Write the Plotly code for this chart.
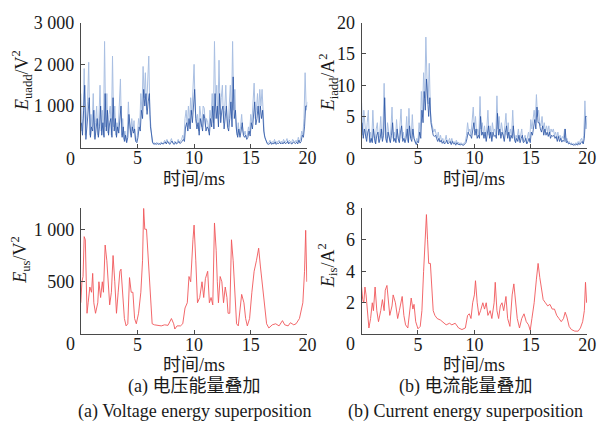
import numpy as np
import plotly.graph_objects as go

# ---------------- data ----------------
t_top = np.round(np.arange(0, 200.5, 1) / 10.0, 2)          # 0.0 .. 20.0 ms
t_top_mid = np.round(np.arange(0, 200, 1) / 10.0 + 0.05, 3)  # 0.05 .. 19.95 ms

uadd_light = [
    1300, 400, 700, 1900, 300, 600, 1100, 2050, 300, 800,
    500, 1300, 250, 600, 1000, 300, 700, 1500, 400, 900,
    300, 2550, 500, 1300, 350, 800, 1000, 300, 2200, 500,
    1000, 300, 600, 400, 1100, 1650, 300, 700, 200, 400,
    150, 300, 1100, 500, 300, 700, 400, 650, 200, 150,
    300, 700, 500, 1300, 900, 1950, 1200, 1800, 900, 1500,
    2200, 800, 500, 150, 100, 120, 90, 130, 100, 110,
    90, 140, 100, 120, 180, 110, 200, 130, 100, 150,
    220, 120, 100, 160, 110, 130, 200, 120, 150, 200,
    300, 200, 700, 900, 500, 1000, 600, 1200, 800, 1400,
    2000, 900, 600, 800, 400, 1000, 700, 500, 1000, 950,
    500, 700, 600, 400, 900, 700, 1300, 600, 2550, 1000,
    1500, 700, 2100, 800, 1200, 1500, 600, 900, 1500, 700,
    500, 1000, 1500, 700, 2550, 900, 1400, 500, 300, 600,
    300, 500, 800, 400, 300, 400, 250, 300, 500, 350,
    800, 600, 1000, 1550, 700, 900, 1300, 800, 1400, 1000,
    1400, 600, 300, 200, 150, 100, 120, 180, 100, 150,
    120, 200, 100, 150, 130, 180, 110, 160, 120, 200,
    130, 150, 220, 110, 180, 140, 120, 200, 150, 130,
    180, 120, 250, 150, 200, 400, 300, 700, 1800, 900,
    1100,
]
uadd_dark = [
    600, 300, 900, 1500, 200, 500, 800, 1200, 250, 500,
    400, 900, 200, 400, 700, 250, 500, 1000, 300, 600,
    250, 1300, 400, 900, 300, 600, 700, 250, 1200, 400,
    700, 250, 500, 350, 800, 1000, 250, 500, 150, 300,
    120, 250, 800, 400, 250, 500, 350, 450, 150, 120,
    250, 500, 400, 900, 700, 1400, 1000, 1300, 800, 1100,
    1300, 500, 300, 120, 80, 100, 80, 100, 80, 90,
    80, 110, 90, 100, 140, 90, 150, 110, 80, 120,
    160, 100, 80, 130, 90, 110, 150, 100, 120, 150,
    200, 150, 500, 600, 400, 700, 450, 900, 600, 1000,
    1400, 700, 450, 600, 300, 700, 500, 400, 800, 700,
    400, 500, 450, 300, 700, 500, 1000, 450, 1300, 700,
    1000, 500, 1300, 600, 900, 1000, 450, 700, 1000, 500,
    400, 700, 1100, 500, 1700, 700, 900, 400, 250, 450,
    250, 400, 600, 300, 250, 300, 200, 250, 400, 280,
    600, 450, 800, 1100, 550, 700, 1000, 600, 1000, 700,
    900, 400, 250, 150, 100, 80, 90, 130, 80, 110,
    90, 140, 80, 110, 100, 130, 90, 120, 90, 140,
    100, 110, 150, 90, 130, 100, 90, 140, 110, 100,
    130, 90, 180, 110, 150, 300, 250, 500, 1000, 1000,
]

iadd_light = [
    7.2, 2.0, 6.0, 3.0, 1.5, 4.0, 6.0, 1.0, 2.5, 1.0,
    6.0, 2.0, 0.8, 3.0, 4.0, 1.0, 2.0, 5.0, 1.5, 3.0,
    10.3, 2.5, 1.0, 4.0, 2.0, 1.0, 3.0, 6.5, 1.5, 2.5,
    1.0, 4.5, 2.0, 1.0, 3.5, 6.2, 1.5, 2.5, 1.0, 2.0,
    5.0, 1.0, 6.3, 2.0, 1.5, 5.3, 2.0, 1.0, 0.7, 1.5,
    1.0, 4.0, 2.0, 9.0, 5.0, 12.0, 8.0, 17.7, 11.0, 7.0,
    13.5, 6.0, 4.0, 3.0, 2.5, 3.0, 2.0, 1.5, 2.5, 1.2,
    2.0, 1.0, 1.5, 0.8, 1.2, 2.0, 0.8, 1.0, 1.5, 0.7,
    1.5, 0.8, 1.0, 0.6, 1.2, 0.7, 0.9, 0.5, 0.8, 0.6,
    0.5, 0.8, 1.0, 2.0, 4.0, 2.5, 3.0, 2.0, 4.5, 6.5,
    3.0, 5.0, 2.0, 3.0, 2.0, 8.2, 3.0, 4.0, 2.0, 3.5,
    1.5, 3.0, 6.0, 2.0, 3.5, 1.5, 4.0, 2.5, 3.0, 2.0,
    8.3, 3.0, 5.0, 2.0, 4.0, 3.0, 1.5, 3.5, 5.5, 2.0,
    4.0, 1.5, 3.0, 2.0, 6.0, 2.0, 1.0, 2.0, 1.5, 3.0,
    1.2, 2.0, 3.0, 1.0, 1.5, 2.0, 0.8, 1.5, 2.5, 1.0,
    4.5, 3.0, 5.0, 6.0, 4.0, 8.5, 5.0, 6.0, 4.0, 3.5,
    5.0, 3.0, 4.0, 2.5, 3.5, 2.5, 3.5, 2.0, 3.0, 2.5,
    3.0, 2.0, 2.5, 1.5, 2.5, 1.5, 2.0, 1.2, 1.8, 1.5,
    3.0, 1.0, 1.5, 0.8, 1.0, 0.6, 0.8, 0.5, 0.7, 0.5,
    0.8, 0.5, 1.0, 0.6, 1.2, 1.5, 0.8, 2.0, 7.5, 3.0,
    5.0,
]
iadd_dark = [
    4.0, 1.5, 3.0, 2.0, 1.0, 2.5, 3.0, 0.8, 1.5, 0.8,
    3.0, 1.5, 0.6, 2.0, 2.5, 0.8, 1.5, 3.0, 1.0, 2.0,
    8.0, 1.5, 0.8, 2.5, 1.5, 0.8, 2.0, 4.0, 1.0, 1.5,
    0.8, 3.0, 1.5, 0.8, 2.5, 3.5, 1.0, 1.5, 0.8, 1.5,
    3.0, 0.8, 3.5, 1.5, 1.0, 3.0, 1.5, 0.8, 0.5, 1.0,
    0.8, 2.5, 1.5, 6.0, 4.0, 9.0, 6.0, 11.0, 8.0, 5.0,
    8.0, 4.0, 3.0, 2.0, 1.8, 2.0, 1.5, 1.0, 1.5, 0.9,
    1.2, 0.7, 1.0, 0.6, 0.8, 1.2, 0.6, 0.8, 1.0, 0.5,
    1.0, 0.6, 0.7, 0.4, 0.8, 0.5, 0.6, 0.4, 0.6, 0.4,
    0.4, 0.6, 0.8, 1.5, 2.5, 2.0, 2.0, 1.5, 3.0, 4.0,
    2.0, 3.0, 1.5, 2.0, 1.5, 5.0, 2.0, 2.5, 1.5, 2.5,
    1.0, 2.0, 3.5, 1.5, 2.5, 1.0, 2.5, 1.8, 2.0, 1.5,
    5.5, 2.0, 3.0, 1.5, 2.5, 2.0, 1.0, 2.5, 3.5, 1.5,
    2.5, 1.0, 2.0, 1.5, 3.5, 1.5, 0.8, 1.5, 1.0, 2.0,
    0.8, 1.5, 2.0, 0.8, 1.0, 1.5, 0.6, 1.0, 1.5, 0.8,
    2.5, 2.0, 3.5, 4.5, 3.0, 6.5, 4.0, 4.0, 3.0, 2.5,
    3.5, 2.0, 3.0, 2.0, 2.5, 1.8, 2.5, 1.5, 2.0, 1.8,
    2.0, 1.5, 1.8, 1.0, 1.8, 1.0, 1.5, 0.9, 1.2, 1.0,
    3.0, 0.8, 1.0, 0.6, 0.7, 0.5, 0.6, 0.4, 0.5, 0.4,
    0.6, 0.4, 0.7, 0.5, 0.8, 1.0, 0.6, 1.5, 5.0, 5.0,
]

us_t = [0, 0.1, 0.2, 0.3, 0.4, 0.55, 0.65, 0.8, 0.95, 1.05,
        1.15, 1.3, 1.5, 1.6, 1.75, 1.9, 2.0, 2.15, 2.3, 2.4,
        2.55, 2.7, 2.85, 3.0, 3.15, 3.3, 3.45, 3.55, 3.7, 3.85,
        4.0, 4.15, 4.3, 4.45, 4.6, 4.75, 4.9, 5.1, 5.3, 5.45,
        5.55, 5.65, 5.8, 5.95, 6.1, 6.3, 6.5, 6.8, 7.1, 7.4,
        7.7, 8.0, 8.2, 8.3, 8.5, 8.8, 9.0, 9.2, 9.4, 9.55,
        9.7, 9.9, 10.0, 10.15, 10.3, 10.5, 10.7, 10.85, 11.0, 11.2,
        11.35, 11.5, 11.65, 11.8, 11.95, 12.05, 12.15, 12.3, 12.45, 12.6,
        12.75, 12.9, 13.0, 13.15, 13.3, 13.45, 13.6, 13.75, 13.9, 14.1,
        14.2, 14.4, 14.55, 14.7, 14.9, 15.1, 15.3, 15.5, 15.7, 15.85,
        16.0, 16.2, 16.4, 16.6, 16.9, 17.2, 17.5, 17.8, 18.0, 18.3,
        18.5, 18.8, 19.0, 19.3, 19.6, 19.75, 19.85, 19.95]
us_v = [300, 500, 550, 930, 900, 200, 300, 450, 400, 580,
        300, 200, 300, 500, 350, 500, 400, 850, 700, 500,
        280, 400, 750, 500, 200, 400, 600, 620, 400, 150,
        80, 100, 540, 400, 400, 150, 100, 200, 400, 700,
        1200, 1000, 1000, 700, 500, 100, 90, 85, 80, 90,
        85, 150, 100, 50, 80, 80, 100, 250, 300, 550,
        500, 900, 1040, 700, 300, 350, 500, 350, 530, 600,
        300, 350, 280, 1060, 800, 500, 300, 550, 500, 300,
        450, 350, 200, 200, 900, 700, 400, 100, 80, 300,
        380, 300, 150, 80, 150, 400, 600, 700, 820, 650,
        500, 300, 100, 60, 90, 100, 80, 130, 90, 80,
        110, 90, 100, 150, 300, 600, 990, 500]

is_t = [0, 0.1, 0.2, 0.3, 0.4, 0.55, 0.65, 0.8, 0.95, 1.05,
        1.2, 1.35, 1.5, 1.7, 1.85, 2.0, 2.1, 2.25, 2.4, 2.5,
        2.7, 2.8, 3.0, 3.2, 3.35, 3.5, 3.6, 3.75, 3.9, 4.1,
        4.3, 4.4, 4.55, 4.65, 4.8, 5.0, 5.2, 5.35, 5.5, 5.65,
        5.75, 5.85, 5.95, 6.1, 6.2, 6.35, 6.5, 6.7, 7.0, 7.3,
        7.5, 7.8, 8.0, 8.3, 8.6, 8.9, 9.2, 9.4, 9.55, 9.7,
        9.85, 10.0, 10.1, 10.25, 10.4, 10.55, 10.75, 10.9, 11.05, 11.2,
        11.4, 11.55, 11.75, 11.85, 12.0, 12.15, 12.3, 12.45, 12.6, 12.8,
        12.95, 13.15, 13.35, 13.5, 13.65, 13.8, 14.0, 14.2, 14.4, 14.6,
        14.8, 14.95, 15.1, 15.3, 15.5, 15.65, 15.8, 15.95, 16.1, 16.3,
        16.5, 16.7, 16.9, 17.1, 17.3, 17.5, 17.7, 17.9, 18.05, 18.2,
        18.4, 18.6, 18.9, 19.2, 19.4, 19.6, 19.75, 19.85, 19.95]
is_v = [3.0, 2.2, 2.0, 3.0, 2.5, 1.2, 0.4, 1.0, 2.0, 1.5,
        3.0, 1.5, 0.8, 1.5, 2.2, 1.5, 2.8, 3.1, 2.0, 1.2,
        1.8, 2.5, 2.0, 1.0, 1.5, 2.2, 2.4, 1.2, 0.6, 0.4,
        1.5, 2.3, 1.6, 1.9, 0.8, 0.35, 0.5, 1.5, 4.0, 6.5,
        7.6, 6.0, 4.5, 4.5, 3.0, 1.5, 1.2, 1.0, 0.9, 0.7,
        0.6, 0.7, 0.6, 0.7, 0.4, 0.3, 0.4, 1.2, 1.3, 1.0,
        2.0, 2.5, 3.4, 2.0, 1.2, 1.5, 2.0, 1.6, 2.0, 1.2,
        1.5, 1.0, 2.0, 3.3, 1.5, 1.0, 1.8, 2.0, 1.5, 2.4,
        1.0, 0.5, 2.5, 3.2, 2.0, 1.0, 0.4, 1.0, 1.3, 0.8,
        0.6, 0.25, 1.0, 2.0, 3.5, 4.5, 3.6, 2.8, 2.2, 2.0,
        1.8, 1.9, 1.6, 1.6, 1.2, 1.0, 0.8, 1.0, 1.4, 1.1,
        0.5, 0.3, 0.2, 0.2, 0.4, 0.8, 1.5, 3.3, 2.0]

x_ticks = [5, 10, 15, 20]
uadd_ticks = [1000, 2000, 3000]
uadd_text = ["1 000", "2 000", "3 000"]
iadd_ticks = [5, 10, 15, 20]
us_ticks = [500, 1000]
us_text = ["500", "1 000"]
is_ticks = [2, 4, 6, 8]

x_title = "时间/ms"
caption_a_cn = "(a) 电压能量叠加"
caption_a_en = "(a) Voltage energy superposition"
caption_b_cn = "(b) 电流能量叠加"
caption_b_en = "(b) Current energy superposition"

# ---------------- styling / layout ----------------
W, H = 608, 430
SERIF = "Liberation Serif"
MIXED = "Liberation Serif, Noto Sans CJK SC"
LIGHT_BLUE = "#a9bfe2"
DARK_BLUE = "#2752a3"
RED = "#f0575a"
AX = "#4a4a4a"
TXT = "#1a1a1a"


def px(x):
    return x / W


def py(y):
    return 1 - y / H


L1, R1, L2, R2 = 82, 312, 367, 596
T1, B1, T2, B2 = 13, 141, 203, 332

fig = go.Figure()
fig.add_trace(go.Scatter(x=t_top, y=uadd_light, mode="lines", line=dict(color=LIGHT_BLUE, width=1), xaxis="x", yaxis="y"))
fig.add_trace(go.Scatter(x=t_top_mid, y=uadd_dark, mode="lines", line=dict(color=DARK_BLUE, width=0.8), xaxis="x", yaxis="y"))
fig.add_trace(go.Scatter(x=t_top, y=iadd_light, mode="lines", line=dict(color=LIGHT_BLUE, width=1), xaxis="x2", yaxis="y2"))
fig.add_trace(go.Scatter(x=t_top_mid, y=iadd_dark, mode="lines", line=dict(color=DARK_BLUE, width=0.8), xaxis="x2", yaxis="y2"))
fig.add_trace(go.Scatter(x=us_t, y=us_v, mode="lines", line=dict(color=RED, width=0.9), xaxis="x3", yaxis="y3"))
fig.add_trace(go.Scatter(x=is_t, y=is_v, mode="lines", line=dict(color=RED, width=0.9), xaxis="x4", yaxis="y4"))

axis_common = dict(showline=True, linecolor=AX, linewidth=1, ticks="inside", ticklen=4,
                   tickcolor=AX, showgrid=False, zeroline=False, mirror=False,
                   tickfont=dict(family=SERIF, size=18, color=TXT))


def xax(dom, anchor):
    return dict(axis_common, domain=dom, anchor=anchor, range=[0, 20], tickvals=x_ticks,
                ticklabelstandoff=-6)


def yax(dom, anchor, rng, vals, text=None):
    d = dict(axis_common, domain=dom, anchor=anchor, range=rng, tickvals=vals, ticklabelstandoff=2)
    if text:
        d["ticktext"] = text
    return d


fig.update_layout(
    width=W, height=H, margin=dict(l=0, r=0, t=0, b=0),
    paper_bgcolor="white", plot_bgcolor="white", showlegend=False,
    xaxis=xax([px(L1), px(R1)], "y"),
    yaxis=yax([py(B1), py(T1)], "x", [0, 3000], uadd_ticks, uadd_text),
    xaxis2=xax([px(L2), px(R2)], "y2"),
    yaxis2=yax([py(B1), py(T1)], "x2", [0, 20], iadd_ticks),
    xaxis3=xax([px(L1), px(R1)], "y3"),
    yaxis3=yax([py(B2), py(T2)], "x3", [0, 1200], us_ticks, us_text),
    xaxis4=xax([px(L2), px(R2)], "y4"),
    yaxis4=yax([py(B2), py(T2)], "x4", [0, 8], is_ticks),
)

ann = []


def text(x, y, s, size=18, angle=0, family=MIXED):
    ann.append(dict(x=px(x), y=py(y), xref="paper", yref="paper", text=s, showarrow=False,
                    xanchor="center", yanchor="middle", textangle=angle,
                    font=dict(family=family, size=size, color=TXT)))


# origin "0" labels
for (x0, y0) in [(72, 153), (356, 153), (72, 342), (356, 342)]:
    text(x0, y0, "0", family=SERIF)
# axis titles
for (x0, y0) in [(197, 173), (481, 173), (197, 363), (481, 363)]:
    text(x0, y0, x_title, size=18)
text(22, 72, "<i>E</i><sub>uadd</sub>/V<sup>2</sup>", angle=-90, family=SERIF)
text(333, 74, "<i>E</i><sub>iadd</sub>/A<sup>2</sup>", angle=-90, family=SERIF)
text(20, 256, "<i>E</i><sub>us</sub>/V<sup>2</sup>", angle=-90, family=SERIF)
text(333, 262, "<i>E</i><sub>is</sub>/A<sup>2</sup>", angle=-90, family=SERIF)
# captions
text(197, 385, caption_a_cn)
text(197, 411, caption_a_en)
text(473, 385, caption_b_cn)
text(472, 411, caption_b_en)

fig.update_layout(annotations=ann)
fig.write_html("out.html")
